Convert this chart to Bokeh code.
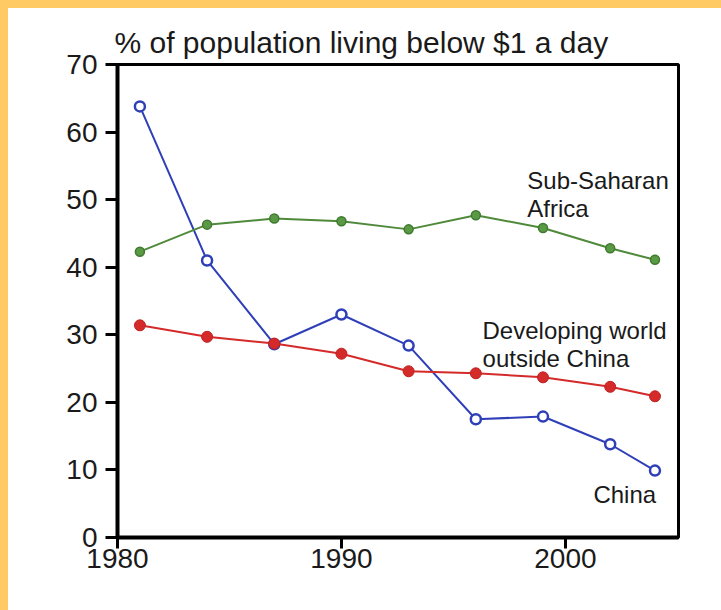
from bokeh.plotting import figure
from bokeh.models import Range1d, Label, FixedTicker
from bokeh.embed import file_html
from bokeh.resources import INLINE

# ---- data ----
years = [1981, 1984, 1987, 1990, 1993, 1996, 1999, 2002, 2004]
china = [63.8, 41.0, 28.6, 33.0, 28.4, 17.5, 17.9, 13.8, 9.9]
ssa = [42.3, 46.3, 47.2, 46.8, 45.6, 47.7, 45.8, 42.8, 41.1]
dev_ex_china = [31.4, 29.7, 28.7, 27.2, 24.6, 24.3, 23.7, 22.3, 20.9]

x_ticks = [1980, 1990, 2000]
y_ticks = [0, 10, 20, 30, 40, 50, 60, 70]

title_text = "% of population living below $1 a day"
label_ssa = ["Sub-Saharan", "Africa"]
label_dev = ["Developing world", "outside China"]
label_china = ["China"]

FONT = "Liberation Sans"
BLUE = "#2f3fb8"
RED = "#d42a2a"
GREEN = "#4f8a3b"

p = figure(width=713, height=602, output_backend="svg", toolbar_location=None,
           x_range=Range1d(1980, 2005.05), y_range=Range1d(0, 70),
           min_border_left=109, min_border_right=43, min_border_top=56, min_border_bottom=73)

p.title.text = title_text
p.title.text_font = FONT
p.title.text_font_size = "30px"
p.title.text_font_style = "normal"
p.title.text_color = "#1a1a1a"
p.title.align = "left"
p.title.offset = -3
p.title.standoff = 12

p.background_fill_color = "white"
p.border_fill_color = "white"
p.outline_line_color = "black"
p.outline_line_width = 3
p.grid.visible = False

for ax in (p.xaxis[0], p.yaxis[0]):
    ax.axis_line_width = 4
    ax.axis_line_color = "black"
    ax.major_tick_line_width = 3
    ax.major_tick_line_color = "black"
    ax.major_tick_in = 0
    ax.minor_tick_line_color = None
    ax.major_label_text_font = FONT
    ax.major_label_text_font_size = "28px"
    ax.major_label_text_color = "#1a1a1a"

p.xaxis.ticker = FixedTicker(ticks=x_ticks)
p.yaxis.ticker = FixedTicker(ticks=y_ticks)
p.xaxis.major_tick_out = 11
p.yaxis.major_tick_out = 12
p.xaxis.major_label_standoff = 0
p.yaxis.major_label_standoff = 8

# lines
p.line(years, china, line_color=BLUE, line_width=2)
p.scatter(years, china, marker="circle", size=10, fill_color="white",
          line_color=BLUE, line_width=2.5)

p.line(years, ssa, line_color=GREEN, line_width=2)
p.scatter(years, ssa, marker="circle", size=9, fill_color="#5a9a44",
          line_color="#3f7a30", line_width=1.5)

p.line(years, dev_ex_china, line_color=RED, line_width=2)
p.scatter(years, dev_ex_china, marker="circle", size=11, fill_color=RED,
          line_color="#c02020", line_width=1)

def add_lines(texts, x, y0, dy):
    for i, t in enumerate(texts):
        p.add_layout(Label(x=x, y=y0 - i * dy, text=t, text_font=FONT,
                           text_font_size="24px", text_color="#1a1a1a",
                           text_baseline="alphabetic", text_align="left"))

add_lines(label_ssa, 1998.3, 52.9, 4.15)
add_lines(label_dev, 1996.3, 30.7, 4.15)
add_lines(label_china, 2001.25, 6.4, 4.15)

html = file_html(p, INLINE, title="Poverty chart")
style = ("<style>html,body{margin:0 !important;padding:0 !important;overflow:hidden;"
         "background:#ffffff;}body{border-top:8px solid #FFC964;"
         "border-left:8px solid #FFC964;box-sizing:border-box;}</style></head>")
html = html.replace("</head>", style, 1)
open("out.html", "w").write(html)
